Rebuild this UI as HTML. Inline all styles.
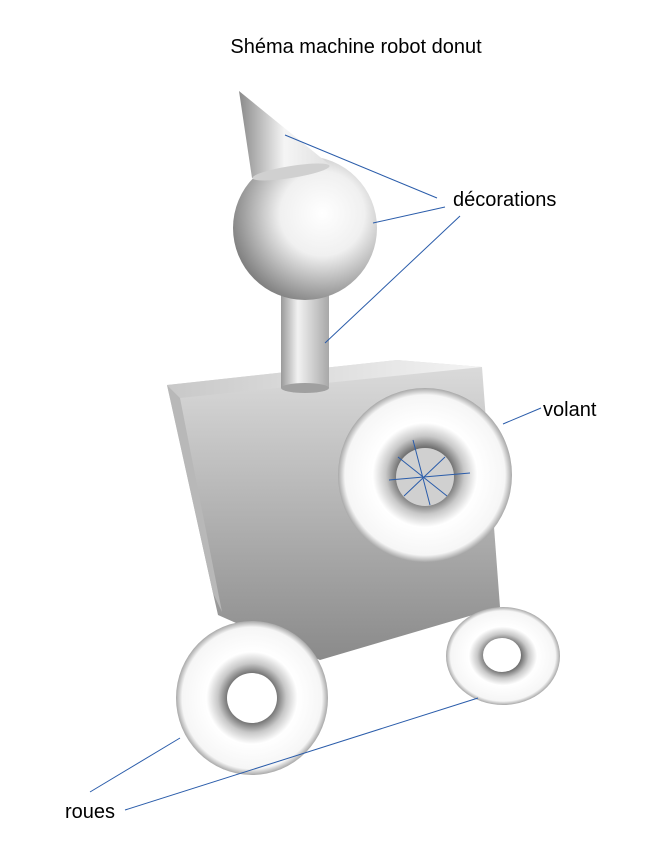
<!DOCTYPE html>
<html><head><meta charset="utf-8"><style>body{margin:0;background:#fff}svg{display:block}text{font-family:"Liberation Sans",sans-serif;fill:#000}</style></head><body>
<svg width="657" height="860" viewBox="0 0 657 860" xmlns="http://www.w3.org/2000/svg">
<defs>
<linearGradient id="face" x1="0" y1="0" x2="0" y2="1"><stop offset="0" stop-color="#dcdcdc"/><stop offset="1" stop-color="#8a8a8a"/></linearGradient>
<linearGradient id="top" x1="0" y1="0" x2="1" y2="0"><stop offset="0" stop-color="#c8c8c8"/><stop offset="1" stop-color="#f4f4f4"/></linearGradient>
<linearGradient id="cyl" x1="0" y1="0" x2="1" y2="0"><stop offset="0" stop-color="#9a9a9a"/><stop offset="0.35" stop-color="#f2f2f2"/><stop offset="1" stop-color="#a8a8a8"/></linearGradient>
<radialGradient id="sph" cx="0.62" cy="0.4" r="0.65"><stop offset="0" stop-color="#fff"/><stop offset="0.45" stop-color="#f0f0f0"/><stop offset="1" stop-color="#808080"/></radialGradient>
<linearGradient id="cone" x1="0" y1="0" x2="1" y2="0"><stop offset="0" stop-color="#8a8a8a"/><stop offset="0.5" stop-color="#f5f5f5"/><stop offset="1" stop-color="#e0e0e0"/></linearGradient>
<radialGradient id="tor" cx="0.5" cy="0.5" r="0.5"><stop offset="0.32" stop-color="#707070"/><stop offset="0.45" stop-color="#c8c8c8"/><stop offset="0.6" stop-color="#fff"/><stop offset="0.92" stop-color="#f6f6f6"/><stop offset="1" stop-color="#a8a8a8"/></radialGradient>
</defs>
<text x="356" y="53" font-size="20" text-anchor="middle">Shéma machine robot donut</text>
<polygon points="167,385 397,360 482,367 500,607 320,660 218,615 213,593" fill="url(#face)"/>
<polygon points="167,385 397,360 482,367 180,398" fill="url(#top)"/>
<polygon points="167,385 180,398 222,612 213,593" fill="#b8b8b8"/>
<rect x="281" y="285" width="48" height="103" fill="url(#cyl)"/>
<ellipse cx="305" cy="388" rx="24" ry="5" fill="#a0a0a0"/>
<circle cx="305" cy="228" r="72" fill="url(#sph)"/>
<polygon points="239,91 330,165 252,178" fill="url(#cone)"/>
<ellipse cx="291" cy="172" rx="39" ry="6" transform="rotate(-9 291 172)" fill="#d0d0d0"/>
<ellipse cx="425" cy="475" rx="87" ry="87" fill="url(#tor)"/>
<circle cx="425" cy="477" r="29" fill="#d0d0d0"/>
<ellipse cx="252" cy="698" rx="76" ry="77" fill="url(#tor)"/>
<circle cx="252" cy="698" r="25" fill="#fff"/>
<ellipse cx="503" cy="656" rx="57" ry="49" fill="url(#tor)"/>
<ellipse cx="502" cy="655" rx="19" ry="17" fill="#fff"/>
<g stroke="#2a5caa" stroke-width="1" fill="none">
<line x1="285" y1="135" x2="437" y2="198"/>
<line x1="373" y1="223" x2="445" y2="207"/>
<line x1="460" y1="216" x2="325" y2="343"/>
<line x1="503" y1="424" x2="541" y2="408"/>
<line x1="90" y1="792" x2="180" y2="738"/>
<line x1="125" y1="810" x2="478" y2="698"/>
<line x1="389" y1="480" x2="470" y2="473"/>
<line x1="413" y1="440" x2="430" y2="505"/>
<line x1="398" y1="457" x2="447" y2="496"/>
<line x1="404" y1="496" x2="445" y2="457"/>
</g>
<text x="453" y="206" font-size="20">décorations</text>
<text x="543" y="416" font-size="20">volant</text>
<text x="65" y="818" font-size="20">roues</text>
</svg>
</body></html>
